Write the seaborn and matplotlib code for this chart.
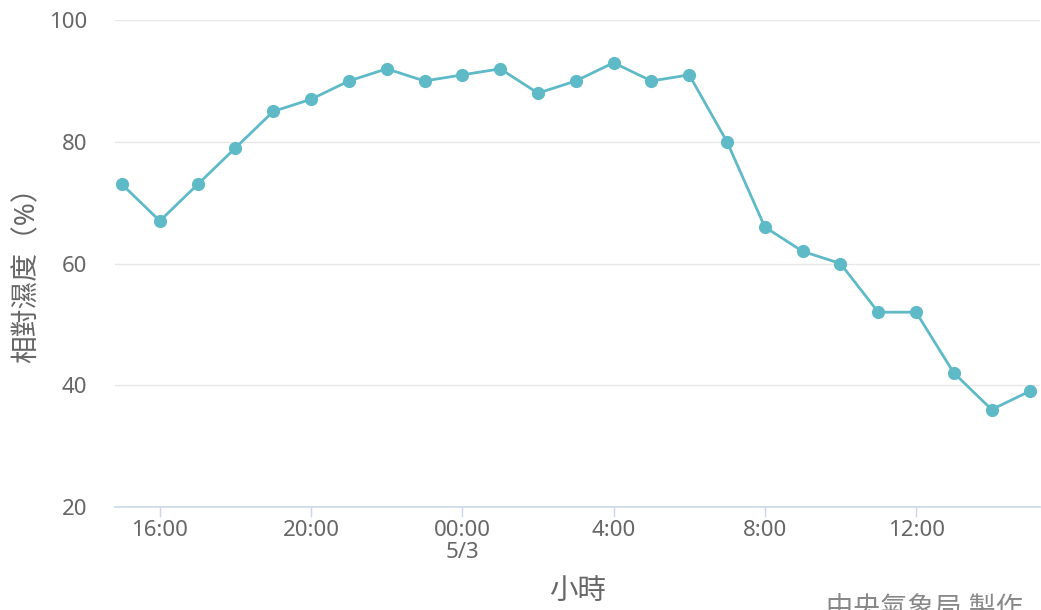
import numpy as np
import pandas as pd
import matplotlib.pyplot as plt
import seaborn as sns

# hourly relative humidity, 15:00 (5/2) to 15:00 (5/3)
hour_index = list(range(25))
humidity = [73, 67, 73, 79, 85, 87, 90, 92, 90, 91, 92, 88, 90,
            93, 90, 91, 80, 66, 62, 60, 52, 52, 42, 36, 39]
tick_pos = [1, 5, 9, 13, 17, 21]
tick_labels = ["16:00", "20:00", "00:00\n5/3", "4:00", "8:00", "12:00"]
y_ticks = [20, 40, 60, 80, 100]

LINE_COLOR = "#5fbac8"
GRID_COLOR = "#e6e6e6"
AXIS_COLOR = "#ccd6eb"
TEXT_COLOR = "#666666"

sns.set_theme(style="white")
plt.rcParams["font.family"] = ["Noto Sans", "Noto Sans CJK TC", "DejaVu Sans"]

df = pd.DataFrame({"hour": hour_index, "rh": humidity})

fig = plt.figure(figsize=(10.41, 6.10), dpi=100)
ax = fig.add_axes([0.1105, 0.169, 0.889, 0.798])

sns.lineplot(data=df, x="hour", y="rh", ax=ax, color=LINE_COLOR,
             linewidth=2.0, marker="o", markersize=9.5,
             markeredgewidth=0, markerfacecolor=LINE_COLOR, zorder=3)

ax.set_xlim(-0.185, 24.29)
ax.set_ylim(20, 100)
ax.set_yticks(y_ticks)
ax.set_xticks(tick_pos)
ax.set_xticklabels(tick_labels, linespacing=1.05)

ax.grid(axis="y", color=GRID_COLOR, linewidth=1.0, zorder=0)
ax.grid(axis="x", visible=False)
for side in ["top", "right", "left"]:
    ax.spines[side].set_visible(False)
ax.spines["bottom"].set_color(AXIS_COLOR)
ax.spines["bottom"].set_linewidth(1.2)

ax.tick_params(axis="x", colors=AXIS_COLOR, length=7.5, width=1, pad=2,
               labelcolor=TEXT_COLOR, labelsize=16, direction="out", bottom=True)
ax.tick_params(axis="y", length=0, pad=20, labelcolor=TEXT_COLOR, labelsize=16)

ax.set_xlabel("")
ax.set_ylabel("")
fig.text(578 / 1041, 1 - 591 / 610, "小時", fontsize=20.5, color=TEXT_COLOR,
         ha="center", va="center")
fig.text(27 / 1041, 1 - 268 / 610, "相對濕度（%）", fontsize=20, color=TEXT_COLOR,
         ha="center", va="center", rotation=90)

fig.text(826 / 1041, 1 - 596 / 610, "中央氣象局 製作", fontsize=19.5, color="#888888",
         ha="left", va="top")

fig.savefig("out.png", dpi=100, facecolor="white")
